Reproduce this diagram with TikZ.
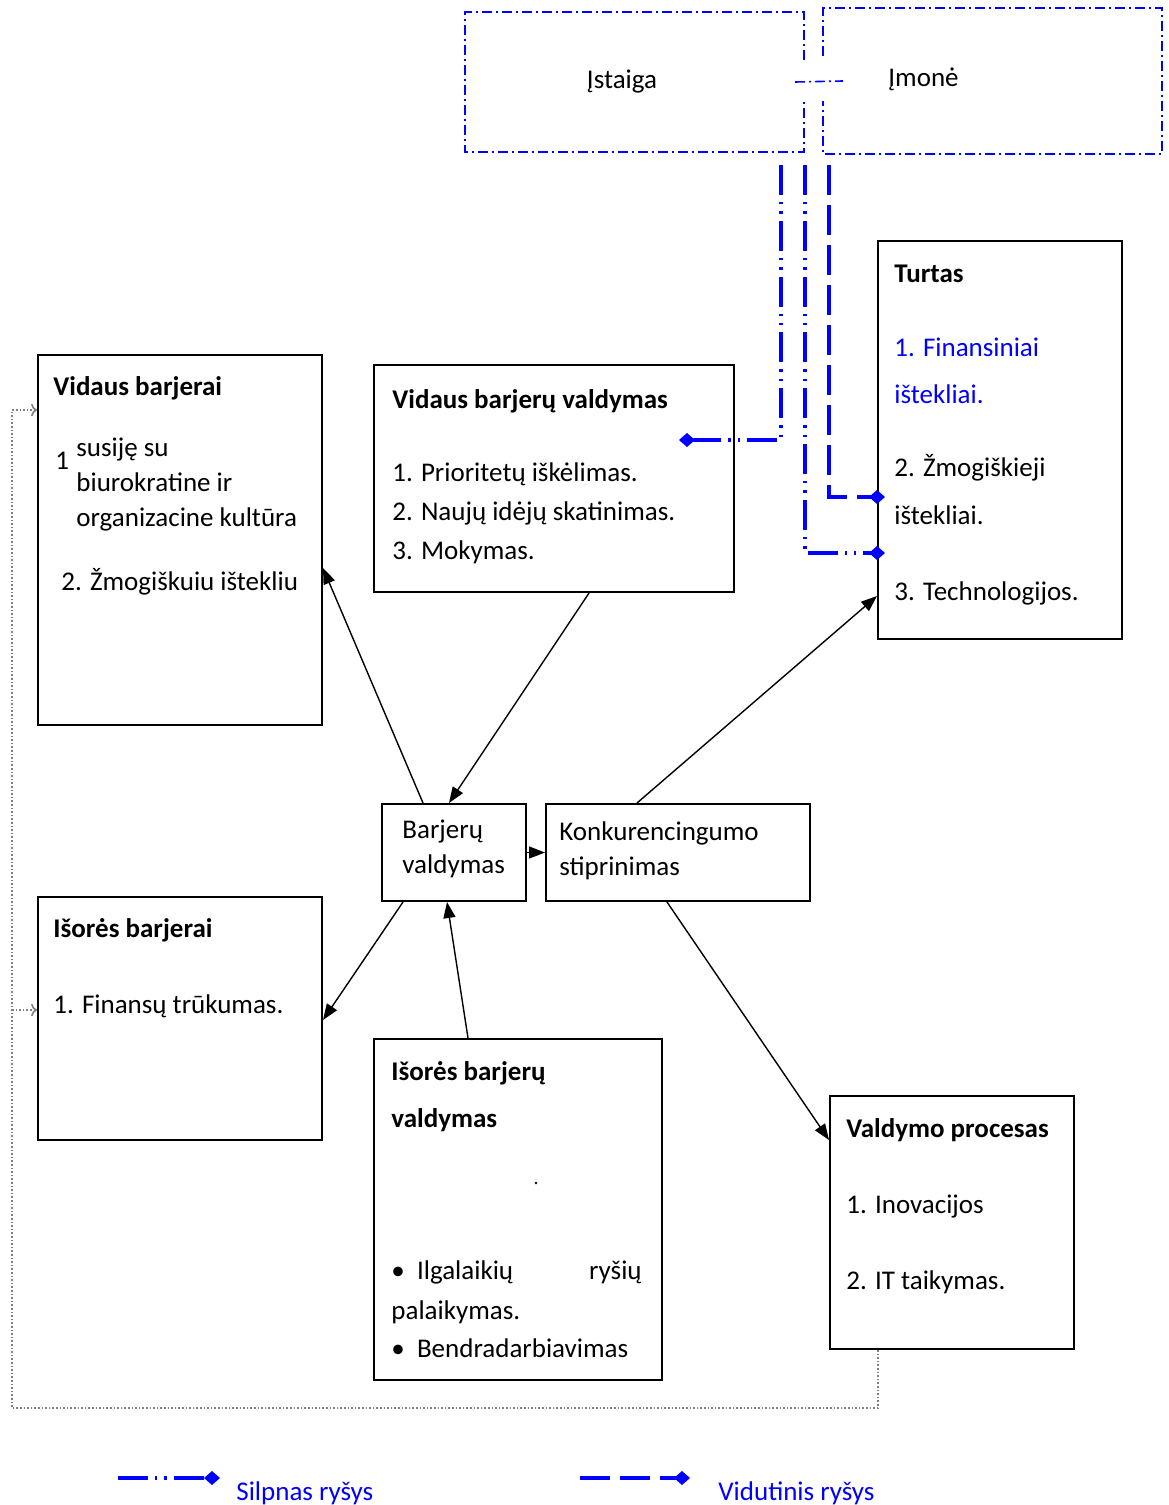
\documentclass[tikz,border=0pt]{standalone}
\usepackage{fontspec}
\setmainfont{Carlito}
\usepackage{tikz}
\usetikzlibrary{arrows.meta}

\begin{document}
\begin{tikzpicture}[x=0.5pt,y=-0.5pt,
		box/.style={draw,line width=1pt,anchor=north west,inner sep=0},
		txt/.style={anchor=base west,inner sep=0,font=\fontsize{13.5}{16}\selectfont},
		ttl/.style={txt,font=\fontsize{13.5}{16}\selectfont\bfseries},
		link/.style={draw,line width=0.7pt,-{Triangle[length=8pt,width=6pt]}},
		weak/.style={draw=blue,line width=1.7pt,
			dash pattern=on 15pt off 3.5pt on 1.2pt off 3.5pt on 1.2pt off 3.5pt,
			-{Diamond[length=8pt,width=7pt]}},
		medium/.style={draw=blue,line width=1.7pt,dash pattern=on 15pt off 5pt,
			-{Diamond[length=8pt,width=7pt]}},
		orgline/.style={draw=blue,line width=0.8pt,dash pattern=on 5pt off 2pt on 1pt off 2pt},
		feedback/.style={draw=gray,line width=0.8pt,densely dotted,-{To[length=3pt]}}]
	\useasboundingbox (0,0) rectangle (1168,1505);
	
	% boxes
	\node[box,minimum width=142pt,minimum height=185pt] (vidaus) at (37,354) {};
	\node[box,minimum width=180pt,minimum height=113.5pt] (vidausvald) at (373,364) {};
	\node[box,minimum width=122pt,minimum height=199pt] (turtas) at (877,240) {};
	\node[box,minimum width=72pt,minimum height=48.5pt] (barjvald) at (381,803) {};
	\node[box,minimum width=132pt,minimum height=48.5pt] (konk) at (545,803) {};
	\node[box,minimum width=142pt,minimum height=121.5pt] (isores) at (37,896) {};
	\node[box,minimum width=144pt,minimum height=170.5pt] (isoresvald) at (373,1038) {};
	\node[box,minimum width=122pt,minimum height=126.5pt] (procesas) at (829,1095) {};
	\node[box,draw=none,minimum width=168.5pt,minimum height=69pt] (istaiga) at (465,12) {};
	\node[box,draw=none,minimum width=168.5pt,minimum height=72pt] (imone) at (823,8) {};
	
	% organisation boxes
	\draw[orgline] ([shift={(0,-22)}]istaiga.east) -- (istaiga.north east) -- (istaiga.north west)
		-- (istaiga.south west) -- (istaiga.south east) -- ([shift={(0,20)}]istaiga.east);
	\draw[orgline] ([shift={(0,-25)}]imone.west) -- (imone.north west) -- (imone.north east)
		-- (imone.south east) -- (imone.south west) -- ([shift={(0,20)}]imone.west);
	\draw[orgline] ([shift={(-9,0)}]istaiga.east) -- ([shift={(20,0)}]imone.west);
	\node[txt,anchor=base] (istaiga-t) at (622,88) {Įstaiga};
	\node[txt] (imone-t) at (888,86) {Įmonė};
	
	% texts
	\node[ttl] (vidaus-t) at (53,395) {Vidaus barjerai};
	\node[txt] (vidaus-n) at (55,469) {1};
	\node[txt] (vidaus-1a) at (76,456) {susiję su};
	\node[txt] (vidaus-1b) at (76,491) {biurokratine ir};
	\node[txt] (vidaus-1c) at (76,526) {organizacine kultūra};
	\node[txt] (vidaus-2) at (61,590) {2. Žmogiškuiu ištekliu};
	
	\node[ttl] (vidausvald-t) at (392,408) {Vidaus barjerų valdymas};
	\node[txt] (vidausvald-1) at (392,481) {1. Prioritetų iškėlimas.};
	\node[txt] (vidausvald-2) at (392,520) {2. Naujų idėjų skatinimas.};
	\node[txt] (vidausvald-3) at (392,559) {3. Mokymas.};
	
	\node[ttl] (turtas-t) at (894,282) {Turtas};
	\node[txt,text=blue] (turtas-1a) at (894,356) {1. Finansiniai};
	\node[txt,text=blue] (turtas-1b) at (894,403) {ištekliai.};
	\node[txt] (turtas-2a) at (894,476) {2. Žmogiškieji};
	\node[txt] (turtas-2b) at (894,524) {ištekliai.};
	\node[txt] (turtas-3) at (894,600) {3. Technologijos.};
	
	\node[txt] (barjvald-a) at (402,838) {Barjerų};
	\node[txt] (barjvald-b) at (402,873) {valdymas};
	\node[txt] (konk-a) at (559,840) {Konkurencingumo};
	\node[txt] (konk-b) at (559,875) {stiprinimas};
	
	\node[ttl] (isores-t) at (53,937) {Išorės barjerai};
	\node[txt] (isores-1) at (53,1013) {1. Finansų trūkumas.};
	
	\node[ttl] (isoresvald-ta) at (391,1080) {Išorės barjerų};
	\node[ttl] (isoresvald-tb) at (391,1127) {valdymas};
	\node[circle,fill,inner sep=0.5pt] (isoresvald-dot) at (536,1183) {};
	\node[txt] (isoresvald-1a) at (391,1279) {\textbullet\ \ Ilgalaikių};
	\node[txt,anchor=base east] (isoresvald-1b) at (642,1279) {ryšių};
	\node[txt] (isoresvald-1c) at (391,1319) {palaikymas.};
	\node[txt] (isoresvald-2) at (391,1357) {\textbullet\ \ Bendradarbiavimas};
	
	\node[ttl] (procesas-t) at (846,1137) {Valdymo procesas};
	\node[txt] (procesas-1) at (846,1213) {1. Inovacijos};
	\node[txt] (procesas-2) at (846,1289) {2. IT taikymas.};
	
	% arrows
	\draw[link] ([shift={(42,0)}]barjvald.north west) -- ([shift={(0,214)}]vidaus.north east);
	\draw[link] ([shift={(216,0)}]vidausvald.south west) -- ([shift={(68,0)}]barjvald.north west);
	\draw[link] (barjvald.east) -- (konk.west);
	\draw[link] ([shift={(22,0)}]barjvald.south west) -- ([shift={(0,124)}]isores.north east);
	\draw[link] ([shift={(95,0)}]isoresvald.north west) -- ([shift={(66,0)}]barjvald.south west);
	\draw[link] ([shift={(92,0)}]konk.north west) -- ([shift={(0,356)}]turtas.north west);
	\draw[link] ([shift={(122,0)}]konk.south west) -- ([shift={(0,45)}]procesas.north west);
	
	% relations
	\coordinate (w1) at (781,165);
	\coordinate (w2) at (805,165);
	\coordinate (m1) at (829,165);
	\draw[weak] (w1) |- ([shift={(-56,76)}]vidausvald.north east);
	\draw[weak] (w2) |- ([shift={(8,313)}]turtas.north west);
	\draw[medium] (m1) |- ([shift={(8,257)}]turtas.north west);
	
	% feedback
	\coordinate (fb-corner) at (12,1408);
	\coordinate (fb-branch) at (12,1010);
	\draw[feedback] ([shift={(49,0)}]procesas.south west) |- (fb-corner) |- ([shift={(0,56)}]vidaus.north west);
	\draw[feedback] (fb-branch) -- ([shift={(0,114)}]isores.north west);
	
	% legend
	\coordinate (leg-w1) at (118,1478);
	\coordinate (leg-w2) at (220,1478);
	\coordinate (leg-m1) at (580,1478);
	\coordinate (leg-m2) at (690,1478);
	\draw[weak] (leg-w1) -- (leg-w2);
	\node[txt,text=blue] (leg-wt) at (236,1500) {Silpnas ryšys};
	\draw[medium] (leg-m1) -- (leg-m2);
	\node[txt,text=blue] (leg-mt) at (718,1500) {Vidutinis ryšys};
\end{tikzpicture}
\end{document}
